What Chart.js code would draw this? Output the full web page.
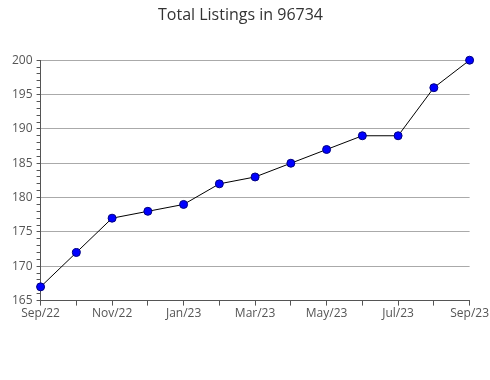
<!DOCTYPE html>
<html>
<head>
<meta charset="utf-8">
<script src="https://cdn.jsdelivr.net/npm/chart.js@4"></script>
<style>
  html, body { margin: 0; padding: 0; background: #fff; }
  #wrap { width: 490px; height: 380px; }
</style>
</head>
<body>
<div id="wrap"><canvas id="listings-chart" width="490" height="380"></canvas></div>
<script>
const months = ['Sep/22', 'Oct/22', 'Nov/22', 'Dec/22', 'Jan/23', 'Feb/23', 'Mar/23',
                'Apr/23', 'May/23', 'Jun/23', 'Jul/23', 'Aug/23', 'Sep/23'];
const listings = [167, 172, 177, 178, 179, 182, 183, 185, 187, 189, 189, 196, 200];
const yMin = 165;
const yMax = 200;

document.addEventListener('DOMContentLoaded', function() {
    const ctx = document.getElementById('listings-chart');
    new Chart(ctx, {
        type: 'line',
        data: {
            labels: months,
            datasets: [{
                data: listings,
                borderColor: '#000',
                borderWidth: 1,
                backgroundColor: '#0000ff',
                pointBackgroundColor: '#0000ff',
                pointBorderColor: '#000080',
                pointBorderWidth: 1,
                pointRadius: 4,
                tension: 0,
                fill: false,
                clip: false
            }]
        },
        options: {
            responsive: false,
            animation: false,
            layout: { padding: { left: 8, right: 17, bottom: 58, top: 0 } },
            plugins: {
                legend: { display: false },
                tooltip: { enabled: false },
                title: {
                    display: true,
                    text: 'Total Listings in 96734',
                    color: '#333',
                    font: { family: 'Open Sans', size: 16, weight: 'normal' },
                    padding: { top: 6, bottom: 35 }
                }
            },
            scales: {
                x: {
                    offset: false,
                    border: { color: '#555', width: 1 },
                    grid: { drawOnChartArea: false, tickLength: 5, color: '#555' },
                    ticks: {
                        autoSkip: false,
                        maxRotation: 0,
                        color: '#555',
                        padding: 1,
                        font: { family: 'Open Sans', size: 12 },
                        callback: function(value, index) {
                            return index % 2 === 0 ? months[index] : '';
                        }
                    }
                },
                y: {
                    min: yMin,
                    max: yMax,
                    border: { color: '#555', width: 1 },
                    grid: {
                        tickLength: 4,
                        color: function(c) {
                            return c.tick && c.tick.value % 5 === 0 ? '#aaa' : 'rgba(0,0,0,0)';
                        },
                        tickColor: '#555'
                    },
                    ticks: {
                        stepSize: 1,
                        autoSkip: false,
                        color: '#555',
                        padding: 4,
                        font: { family: 'Open Sans', size: 12 },
                        callback: function(value) {
                            return value % 5 === 0 ? value : '';
                        }
                    }
                }
            }
        }
    });
});
</script>
</body>
</html>
